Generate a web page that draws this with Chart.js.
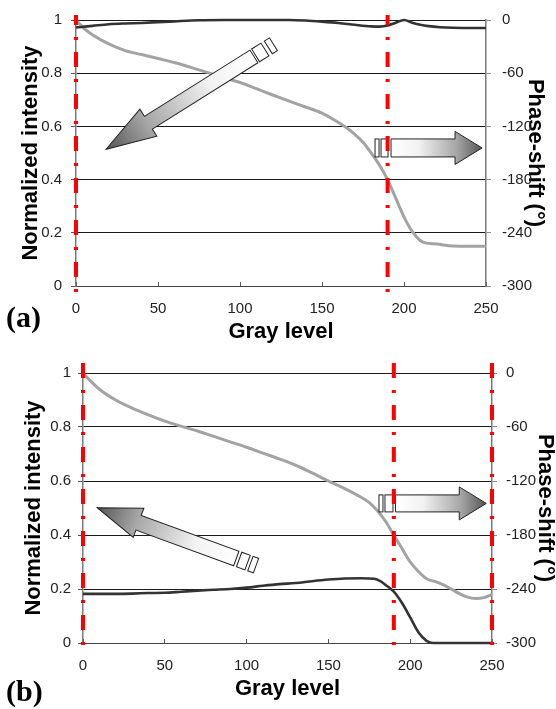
<!DOCTYPE html>
<html>
<head>
<meta charset="utf-8">
<script src="https://cdn.jsdelivr.net/npm/chart.js@4.4.1/dist/chart.umd.min.js"></script>
<style>
  html, body { margin: 0; padding: 0; background: #fff; }
  #wrap { position: relative; width: 556px; height: 709px; overflow: hidden; background: #fff; }
  canvas { position: absolute; left: 0; }
  .lab { position: absolute; font-family: "Liberation Serif", "Times New Roman", serif; font-weight: bold; line-height: 1; color: #000; }
</style>
</head>
<body>
<div id="wrap">
  <canvas id="ca" width="556" height="345" style="top:0px"></canvas>
  <canvas id="cb" width="556" height="364" style="top:345px"></canvas>
  <div class="lab" style="left:6px; top:302px; font-size:30px;">(a)</div>
  <div class="lab" style="left:6px; top:676px; font-size:30px;">(b)</div>
</div>
<script>
// ---------- data ----------
const xTicks = [0, 50, 100, 150, 200, 250];
const xTickLabels = ['0', '50', '100', '150', '200', '250'];
const intensityTicks = [0, 0.2, 0.4, 0.6, 0.8, 1];
const intensityTickLabels = ['0', '0.2', '0.4', '0.6', '0.8', '1'];
const phaseTicks = [-300, -240, -180, -120, -60, 0];
const phaseTickLabels = ['-300', '-240', '-180', '-120', '-60', '0'];

// panel (a)
const grayAInt = [0,10,20,30,40,50,60,75,90,130,140,150,160,170,180,185,190,195,200,205,210,215,222,230,250];
const intensityA = [0.972,0.978,0.984,0.987,0.989,0.992,0.995,0.999,1.0,1.0,0.998,0.994,0.989,0.982,0.976,0.975,0.979,0.99,1.0,0.99,0.982,0.977,0.973,0.971,0.970];
const grayAPhase = [0,5,10,20,30,40,50,60,70,80,90,100,110,120,130,140,150,160,165,170,175,180,185,190,195,200,205,210,213,220,230,240,250];
const phaseA = [0,-9.6,-16.5,-27,-34.5,-39,-43.5,-48,-53.4,-59.1,-65.1,-70.5,-77.4,-84.6,-91.5,-98.1,-105,-115.5,-121.5,-129,-138,-150,-163.5,-180,-201,-222,-238.5,-249,-251.4,-252.6,-255,-255.3,-255.3];
const markersA = [0, 190];

// panel (b)
const grayBInt = [0,20,30,40,50,60,70,80,90,100,110,120,130,140,150,160,170,178,182,185,190,195,200,205,210,214,250];
const intensityB = [0.182,0.182,0.183,0.185,0.186,0.19,0.194,0.197,0.2,0.205,0.212,0.218,0.222,0.229,0.235,0.239,0.24,0.238,0.228,0.215,0.19,0.148,0.095,0.04,0.008,0,0];
const grayBPhase = [0,5,10,20,30,40,50,60,70,80,90,100,110,120,130,140,150,160,170,175,180,185,190,195,200,205,210,215,220,225,230,235,240,245,250];
const phaseB = [0,-9.6,-18,-30,-39,-46.5,-53.4,-59.1,-64.5,-70.5,-76.5,-82.5,-89,-95.5,-102.5,-111,-120,-128.4,-138,-144,-153,-165,-180,-195,-210,-220.5,-228.6,-231.6,-235.2,-240,-245.1,-249,-250.5,-249.6,-246];
const markersB = [0, 190, 250];

// ---------- annotation arrows (tail/tip in data units of gray level / intensity) ----------
const arrowsA = [
  { tail: [108.5, 0.863], tip: [18.3, 0.514], bodyW: 15, headW: 32, headL: 50, pieces: [[2, 11], [4, 6]] },
  { tail: [192.1, 0.519], tip: [247.6, 0.519], bodyW: 18, headW: 33, headL: 27, pieces: [[3, 7], [2, 4]] }
];
const arrowsB = [
  { tail: [93.7, 0.313], tip: [8.7, 0.501], bodyW: 15.5, headW: 31, headL: 44, pieces: [[3, 9], [3, 6]] },
  { tail: [191.0, 0.517], tip: [246.5, 0.517], bodyW: 17, headW: 33, headL: 27, pieces: [[2.5, 8], [2, 4]] }
];

Chart.defaults.font.family = "Arial, 'Liberation Sans', sans-serif";

function drawArrow(ctx, t, p, a) {
  const dx = p.x - t.x, dy = p.y - t.y;
  const L = Math.hypot(dx, dy);
  ctx.save();
  ctx.translate(t.x, t.y);
  ctx.rotate(Math.atan2(dy, dx));
  const g = ctx.createLinearGradient(0, 0, L, 0);
  g.addColorStop(0, '#ffffff');
  g.addColorStop(0.3, '#f2f2f2');
  g.addColorStop(0.72, '#a6a6a6');
  g.addColorStop(1, '#555555');
  const bw = a.bodyW / 2, hw = a.headW / 2, hb = L - a.headL;
  ctx.beginPath();
  ctx.moveTo(0, -bw);
  ctx.lineTo(hb, -bw);
  ctx.lineTo(hb, -hw);
  ctx.lineTo(L, 0);
  ctx.lineTo(hb, hw);
  ctx.lineTo(hb, bw);
  ctx.lineTo(0, bw);
  ctx.closePath();
  ctx.fillStyle = g;
  ctx.fill();
  ctx.strokeStyle = '#222';
  ctx.lineWidth = 1;
  ctx.stroke();
  let pos = 0;
  for (const [gap, len] of a.pieces) {
    pos -= gap;
    ctx.fillStyle = '#fff';
    ctx.fillRect(pos - len, -bw, len, a.bodyW);
    ctx.strokeRect(pos - len, -bw, len, a.bodyW);
    pos -= len;
  }
  ctx.restore();
}

const decorPlugin = {
  id: 'decor',
  afterDatasetsDraw(chart, args, opts) {
    const ctx = chart.ctx;
    const xs = chart.scales.x, ys = chart.scales.y;
    const area = chart.chartArea;
    for (const a of opts.arrows) {
      const t = { x: xs.getPixelForValue(a.tail[0]), y: ys.getPixelForValue(a.tail[1]) };
      const p = { x: xs.getPixelForValue(a.tip[0]), y: ys.getPixelForValue(a.tip[1]) };
      drawArrow(ctx, t, p, a);
    }
    ctx.save();
    ctx.strokeStyle = '#ff0000';
    ctx.lineWidth = 4;
    ctx.setLineDash([15, 12, 3, 12]);
    ctx.lineDashOffset = opts.dashOffset;
    for (const m of opts.markers) {
      const px = xs.getPixelForValue(m);
      ctx.beginPath();
      ctx.moveTo(px, area.top - opts.extTop);
      ctx.lineTo(px, area.bottom + opts.extBottom);
      ctx.stroke();
    }
    ctx.restore();
  }
};

function makePanel(canvas, g, intX, intY, phX, phY) {
  const pts = (xs, ys) => xs.map((x, i) => ({ x: x, y: ys[i] }));
  return new Chart(canvas, {
    type: 'line',
    data: {
      datasets: [
        { data: pts(intX, intY), yAxisID: 'y', borderColor: '#333333', borderWidth: 2.6,
          pointRadius: 0, cubicInterpolationMode: 'monotone', clip: false, fill: false },
        { data: pts(phX, phY), yAxisID: 'y2', borderColor: '#a3a3a3', borderWidth: 3,
          pointRadius: 0, cubicInterpolationMode: 'monotone', clip: false, fill: false }
      ]
    },
    options: {
      responsive: false,
      animation: false,
      devicePixelRatio: 1,
      layout: { padding: { top: g.top, left: 0, right: 0, bottom: 0 } },
      plugins: {
        legend: { display: false },
        tooltip: { enabled: false },
        decor: { arrows: g.arrows, markers: g.markers, extTop: g.extTop, extBottom: g.extBottom, dashOffset: g.dashOffset }
      },
      scales: {
        x: {
          type: 'linear', min: 0, max: 250,
          afterBuildTicks: s => { s.ticks = xTicks.map(v => ({ value: v })); },
          afterFit: s => { s.height = g.xH; },
          grid: { drawOnChartArea: false, tickLength: -4, color: '#555' },
          border: { color: '#444', width: 1 },
          ticks: { padding: 18, maxRotation: 0, autoSkip: false, color: '#222', font: { size: 15 },
                   callback: (v, i) => xTickLabels[i] },
          title: { display: true, text: 'Gray level', color: '#000',
                   font: { size: 22, weight: 'bold', lineHeight: 1 }, padding: { top: 0, bottom: g.xTitlePad } }
        },
        y: {
          type: 'linear', position: 'left', min: 0, max: 1,
          afterBuildTicks: s => { s.ticks = intensityTicks.map(v => ({ value: v })); },
          afterFit: s => { s.width = g.leftW; },
          grid: { color: '#1a1a1a', lineWidth: 1, tickLength: 5, tickColor: '#555' },
          border: { color: '#7a7a7a', width: 1.5 },
          ticks: { padding: g.leftPad, color: '#222', font: { size: 15 }, autoSkip: false,
                   callback: (v, i) => intensityTickLabels[i] },
          title: { display: true, text: 'Normalized intensity', color: '#000',
                   font: { size: 22, weight: 'bold', lineHeight: 1 }, padding: { top: g.leftTitlePad, bottom: 0 } }
        },
        y2: {
          type: 'linear', position: 'right', min: -300, max: 0,
          afterBuildTicks: s => { s.ticks = phaseTicks.map(v => ({ value: v })); },
          afterFit: s => { s.width = g.rightW; },
          grid: { drawOnChartArea: false, tickLength: 5, color: '#888' },
          border: { color: '#7a7a7a', width: 1.5 },
          ticks: { padding: g.rightPad, color: '#222', font: { size: 15 }, autoSkip: false,
                   callback: (v, i) => phaseTickLabels[i] },
          title: { display: true, text: 'Phase-shift (°)', color: '#000',
                   font: { size: 22, weight: 'bold', lineHeight: 1 }, padding: { top: g.rightTitlePad, bottom: 0 } }
        }
      }
    },
    plugins: [decorPlugin]
  });
}

makePanel(document.getElementById('ca'), {
  top: 16, leftW: 76, rightW: 70, xH: 59, leftPad: 9, rightPad: 11,
  leftTitlePad: 20, rightTitlePad: 10, xTitlePad: 2,
  arrows: arrowsA, markers: markersA, extTop: 5, extBottom: 11, dashOffset: 5
}, grayAInt, intensityA, grayAPhase, phaseA);

makePanel(document.getElementById('cb'), {
  top: 28, leftW: 83, rightW: 64, xH: 66, leftPad: 7, rightPad: 9,
  leftTitlePad: 23, rightTitlePad: 0, xTitlePad: 9,
  arrows: arrowsB, markers: markersB, extTop: 10, extBottom: 12, dashOffset: 0
}, grayBInt, intensityB, grayBPhase, phaseB);
</script>
</body>
</html>
